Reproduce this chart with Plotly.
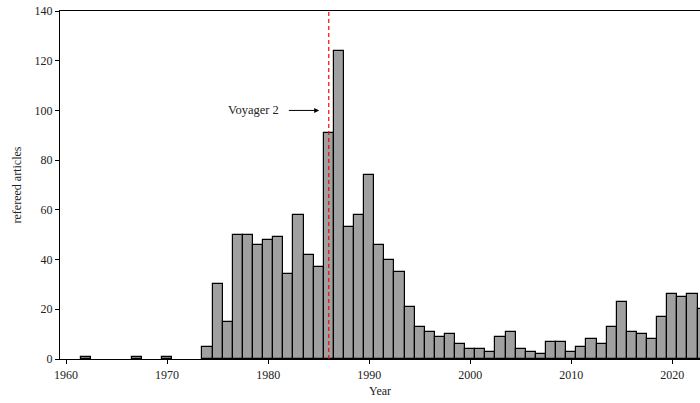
import plotly.graph_objects as go

# Refereed articles per publication year
years = [1962, 1967, 1970, 1974, 1975, 1976, 1977, 1978, 1979, 1980, 1981,
         1982, 1983, 1984, 1985, 1986, 1987, 1988, 1989, 1990, 1991, 1992,
         1993, 1994, 1995, 1996, 1997, 1998, 1999, 2000, 2001, 2002, 2003,
         2004, 2005, 2006, 2007, 2008, 2009, 2010, 2011, 2012, 2013, 2014,
         2015, 2016, 2017, 2018, 2019, 2020, 2021, 2022, 2023]
articles = [1, 1, 1, 5, 30, 15, 50, 50, 46, 48, 49,
            34, 58, 42, 37, 91, 124, 53, 58, 74, 46, 40,
            35, 21, 13, 11, 9, 10, 6, 4, 4, 3, 9,
            11, 4, 3, 2, 7, 7, 3, 5, 8, 6, 13,
            23, 11, 10, 8, 17, 26, 25, 26, 20]

flyby_year = 1986
event_label = "Voyager 2"
x_ticks = [1960, 1970, 1980, 1990, 2000, 2010, 2020]
y_ticks = [0, 20, 40, 60, 80, 100, 120, 140]

font_family = "Liberation Serif, DejaVu Serif, serif"
text_color = "#222222"

fig = go.Figure()
fig.add_trace(go.Bar(
    x=years, y=articles, width=1,
    marker=dict(color="rgb(160,160,160)", line=dict(color="black", width=1.2)),
    showlegend=False,
))

# Vertical marker at the flyby year
fig.add_shape(type="line", xref="x", yref="paper", x0=flyby_year, x1=flyby_year,
              y0=0, y1=1, line=dict(color="red", width=1.2, dash="4px,3px"))

# Label and arrow pointing at the marker
fig.add_annotation(x=flyby_year - 4.72, y=100, xref="x", yref="y", text=event_label,
                   showarrow=False, xanchor="right", yanchor="middle",
                   font=dict(family=font_family, size=12.5, color=text_color))
fig.add_annotation(x=flyby_year - 0.95, y=100, ax=flyby_year - 4.0, ay=100,
                   xref="x", yref="y", axref="x", ayref="y", text="",
                   showarrow=True, arrowhead=2, arrowsize=1, arrowwidth=1,
                   arrowcolor="black", borderpad=0)

fig.update_layout(
    width=700, height=403,
    margin=dict(l=60, r=0, t=11, b=44),
    paper_bgcolor="white", plot_bgcolor="white",
    font=dict(family=font_family, size=12, color=text_color),
    bargap=0,
    xaxis=dict(
        range=[1959.4, 2022.74], tickvals=x_ticks, ticks="outside", ticklen=4,
        tickcolor="black", showline=True, linecolor="black", linewidth=1.3,
        mirror=True, showgrid=False, zeroline=False,
        tickfont=dict(family=font_family, size=12, color=text_color),
        title=dict(text="Year", standoff=6,
                   font=dict(family=font_family, size=12, color=text_color)),
    ),
    yaxis=dict(
        range=[0, 140], tickvals=y_ticks, ticks="outside", ticklen=4,
        tickcolor="black", showline=True, linecolor="black", linewidth=1.3,
        showgrid=False, zeroline=False,
        tickfont=dict(family=font_family, size=12, color=text_color),
        title=dict(text="refereed articles", standoff=10,
                   font=dict(family=font_family, size=12, color=text_color)),
    ),
)

fig.write_html("out.html")
